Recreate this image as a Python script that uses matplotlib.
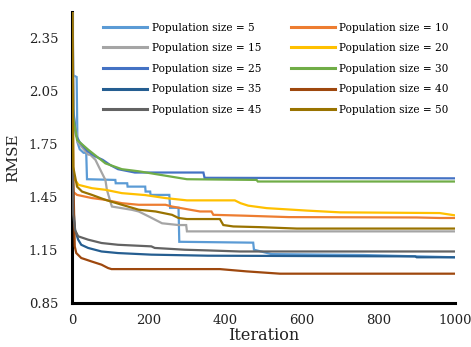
import numpy as np
from matplotlib import pyplot as plt

# RMSE vs iteration for each population size
it_5 = [0, 3, 12, 14, 20, 30, 37, 39, 113, 114, 144, 145, 191, 192, 204, 205, 254, 256, 278, 280, 473, 475, 521, 760, 1000]
rmse_5 = [2.70, 2.14, 2.13, 1.76, 1.72, 1.70, 1.70, 1.55, 1.546, 1.527, 1.527, 1.508, 1.508, 1.48, 1.48, 1.461,
          1.461, 1.388, 1.388, 1.195, 1.19, 1.15, 1.125, 1.12, 1.107]

it_10 = [0, 2, 13, 52, 87, 130, 174, 244, 261, 300, 334, 364, 369, 452, 566, 900, 960, 1000]
rmse_10 = [2.70, 1.48, 1.461, 1.443, 1.433, 1.414, 1.405, 1.405, 1.395, 1.38, 1.367, 1.367, 1.348, 1.343,
           1.335, 1.333, 1.33, 1.33]

it_15 = [0, 5, 15, 42, 48, 61, 70, 87, 91, 100, 104, 157, 174, 200, 235, 278, 298, 300, 1000]
rmse_15 = [2.70, 1.90, 1.76, 1.69, 1.688, 1.66, 1.62, 1.546, 1.49, 1.423, 1.395, 1.376, 1.367, 1.339, 1.30,
           1.29, 1.29, 1.254, 1.254]

it_20 = [0, 3, 17, 52, 87, 130, 191, 244, 300, 425, 440, 460, 508, 613, 700, 960, 1000]
rmse_20 = [2.70, 1.56, 1.518, 1.499, 1.49, 1.471, 1.46, 1.443, 1.43, 1.43, 1.414, 1.40, 1.386, 1.372, 1.362,
           1.358, 1.345]

it_25 = [0, 3, 10, 20, 40, 60, 80, 100, 120, 164, 343, 346, 1000]
rmse_25 = [2.70, 1.95, 1.80, 1.76, 1.71, 1.68, 1.66, 1.63, 1.607, 1.588, 1.588, 1.558, 1.555]

it_30 = [0, 3, 13, 43, 87, 130, 174, 300, 482, 485, 1000]
rmse_30 = [2.70, 1.90, 1.773, 1.716, 1.64, 1.607, 1.595, 1.55, 1.546, 1.537, 1.537]

it_35 = [0, 3, 8, 16, 24, 42, 77, 120, 207, 355, 896, 900, 1000]
rmse_35 = [1.95, 1.40, 1.26, 1.207, 1.178, 1.16, 1.14, 1.131, 1.122, 1.116, 1.112, 1.107, 1.107]

it_40 = [0, 3, 7, 11, 24, 50, 77, 94, 103, 386, 456, 543, 1000]
rmse_40 = [2.70, 1.60, 1.169, 1.131, 1.103, 1.084, 1.065, 1.046, 1.04, 1.04, 1.027, 1.014, 1.014]

it_45 = [0, 3, 8, 16, 42, 77, 120, 207, 216, 294, 355, 438, 1000]
rmse_45 = [1.97, 1.35, 1.26, 1.226, 1.207, 1.188, 1.178, 1.169, 1.16, 1.15, 1.146, 1.14, 1.14]

it_50 = [0, 3, 13, 26, 52, 87, 130, 174, 218, 261, 278, 300, 386, 395, 421, 491, 587, 1000]
rmse_50 = [2.70, 1.62, 1.508, 1.48, 1.461, 1.433, 1.405, 1.377, 1.367, 1.348, 1.33, 1.324, 1.324, 1.29,
           1.282, 1.278, 1.27, 1.27]

pop_sizes = [5, 10, 15, 20, 25, 30, 35, 40, 45, 50]
colors = ['#5B9BD5', '#ED7D31', '#A5A5A5', '#FFC000', '#4472C4',
          '#70AD47', '#255E91', '#9E480E', '#636363', '#997300']
y_ticks = [0.85, 1.15, 1.45, 1.75, 2.05, 2.35]
x_ticks = [0, 200, 400, 600, 800, 1000]

series = [(it_5, rmse_5), (it_10, rmse_10), (it_15, rmse_15), (it_20, rmse_20), (it_25, rmse_25),
          (it_30, rmse_30), (it_35, rmse_35), (it_40, rmse_40), (it_45, rmse_45), (it_50, rmse_50)]

plt.rcParams['font.family'] = ['DejaVu Serif']

fig = plt.figure(figsize=(4.71, 3.47), dpi=100)
ax = fig.add_axes([0.153, 0.128, 0.813, 0.838])

lines = []
for (x, y), p, c in zip(series, pop_sizes, colors):
    ln, = ax.plot(x, y, color=c, lw=1.6, label=f'Population size = {p}',
                  solid_joinstyle='miter')
    lines.append(ln)

ax.set_xlim(0, 1000)
ax.set_ylim(0.85, 2.5)
ax.set_xticks(x_ticks)
ax.set_yticks(y_ticks)
ax.set_yticklabels([f'{v:.2f}' for v in y_ticks])
ax.tick_params(length=0, labelsize=9.5, colors='#222222')
ax.tick_params(axis='y', pad=10)
ax.tick_params(axis='x', pad=8)

for s in ['top', 'right']:
    ax.spines[s].set_visible(False)
for s in ['left', 'bottom']:
    ax.spines[s].set_linewidth(2.2)
    ax.spines[s].set_color('black')
    ax.spines[s].set_zorder(1)

ax.set_xlabel('Iteration', fontsize=11.5, labelpad=0, color='#222222')
ax.set_ylabel('RMSE', fontsize=11, labelpad=6, color='#222222')

# legend fills row by row in the reference: reorder for column-wise fill
order = [0, 2, 4, 6, 8, 1, 3, 5, 7, 9]
leg = ax.legend([lines[i] for i in order], [lines[i].get_label() for i in order],
                ncol=2, loc='upper left', bbox_to_anchor=(0.081, 0.963),
                frameon=False, fontsize=7.6, handlelength=4.2, handletextpad=0.4,
                columnspacing=2.8, labelspacing=1.0, borderpad=0, borderaxespad=0)
for h in leg.legend_handles:
    h.set_linewidth(2.2)

fig.savefig('out.png', dpi=100)
